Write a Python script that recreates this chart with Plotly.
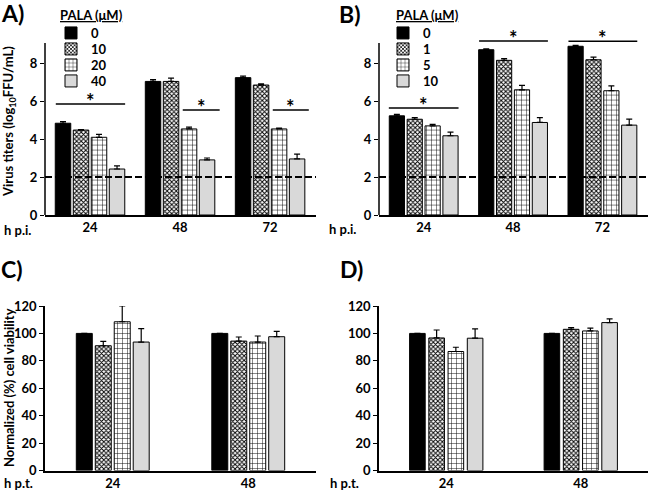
import plotly.graph_objects as go

# ---------------- data ----------------
hours_pi = ["24", "48", "72"]
hours_pt = ["24", "48"]
pala_A = ["0", "10", "20", "40"]
pala_B = ["0", "1", "5", "10"]

# Panel A: virus titers (log10 FFU/mL)
titer_A_0 = [4.83, 7.03, 7.23]
titer_A_10 = [4.47, 7.03, 6.84]
titer_A_20 = [4.09, 4.53, 4.53]
titer_A_40 = [2.42, 2.90, 2.95]
err_A_0 = [0.08, 0.10, 0.08]
err_A_10 = [0.03, 0.17, 0.06]
err_A_20 = [0.15, 0.10, 0.04]
err_A_40 = [0.17, 0.10, 0.25]

# Panel B
titer_B_0 = [5.22, 8.70, 8.88]
titer_B_1 = [5.04, 8.14, 8.17]
titer_B_5 = [4.69, 6.59, 6.54]
titer_B_10 = [4.17, 4.87, 4.73]
err_B_0 = [0.08, 0.04, 0.05]
err_B_1 = [0.08, 0.09, 0.14]
err_B_5 = [0.08, 0.23, 0.26]
err_B_10 = [0.19, 0.25, 0.32]

# Panel C: normalized cell viability (%)
via_C_0 = [100, 100]
via_C_10 = [91.0, 94.4]
via_C_20 = [108.5, 93.7]
via_C_40 = [93.7, 97.6]
err_C_0 = [0, 0]
err_C_10 = [3.2, 3.0]
err_C_20 = [11.5, 4.4]
err_C_40 = [9.8, 3.9]

# Panel D
via_D_0 = [100, 100]
via_D_1 = [96.7, 103.0]
via_D_5 = [86.8, 101.8]
via_D_10 = [96.5, 107.9]
err_D_0 = [0, 0]
err_D_1 = [5.8, 1.2]
err_D_5 = [3.1, 2.0]
err_D_10 = [6.8, 2.7]

detection_limit = 2

# significance brackets: (x start, x end in category units, y level)
sig_A = [(-0.38, 0.39, 5.84), (1.03, 1.44, 5.53), (2.03, 2.43, 5.53)]
sig_B = [(-0.39, 0.39, 5.63), (0.62, 1.39, 9.16), (1.62, 2.39, 9.14)]

# ---------------- styling ----------------
FONT = "Lato"
BLACK = "#000000"
GRAY = "#d9d9d9"
W, H = 650, 492

styles = [
    dict(color=BLACK),
    dict(color="white", pattern=dict(shape="x", size=3.2, solidity=0.5, fgcolor=BLACK, bgcolor="white", fillmode="replace")),
    dict(color="white", pattern=dict(shape="+", size=5, solidity=0.18, fgcolor=BLACK, bgcolor="white", fillmode="replace")),
    dict(color=GRAY),
]

fig = go.Figure()
legfont = dict(family=FONT, size=13, weight=700, color=BLACK)
legend_layouts = {}
legend_counter = [0]


def add_panel(xs, series, errs, names, xa, ya, slot, width, legend_pos=None):
    n = len(series)
    start = -(slot * (n - 1) + width) / 2
    for i, (vals, er) in enumerate(zip(series, errs)):
        st = styles[i]
        marker = dict(color=st["color"], line=dict(color=BLACK, width=1))
        if "pattern" in st:
            marker["pattern"] = st["pattern"]
        legname = "legend"
        if legend_pos is not None:
            legend_counter[0] += 1
            k = legend_counter[0]
            legname = "legend" if k == 1 else f"legend{k}"
            lx, ly0, dy = legend_pos
            legend_layouts[legname] = dict(
                x=lx / W, y=1 - (ly0 + i * dy) / H, xanchor="left", yanchor="middle",
                font=legfont, bgcolor="rgba(0,0,0,0)", borderwidth=0)
        fig.add_trace(go.Bar(
            x=xs, y=vals, name=names[i], xaxis=xa, yaxis=ya,
            width=width, offset=start + i * slot,
            marker=marker,
            error_y=dict(type="data", symmetric=False, array=er, arrayminus=[0] * len(er),
                         color=BLACK, thickness=1.2, width=3),
            showlegend=legend_pos is not None,
            legend=legname,
        ))


add_panel(hours_pi, [titer_A_0, titer_A_10, titer_A_20, titer_A_40],
          [err_A_0, err_A_10, err_A_20, err_A_40], pala_A, "x", "y", 0.2, 0.172, (51, 33, 16))
add_panel(hours_pi, [titer_B_0, titer_B_1, titer_B_5, titer_B_10],
          [err_B_0, err_B_1, err_B_5, err_B_10], pala_B, "x2", "y2", 0.2, 0.17, (383, 33, 16))
add_panel(hours_pt, [via_C_0, via_C_10, via_C_20, via_C_40],
          [err_C_0, err_C_10, err_C_20, err_C_40], pala_A, "x3", "y3", 0.14, 0.118)
add_panel(hours_pt, [via_D_0, via_D_1, via_D_5, via_D_10],
          [err_D_0, err_D_1, err_D_5, err_D_10], pala_B, "x4", "y4", 0.143, 0.116)

tickfont = dict(family=FONT, size=13, color=BLACK, weight=700)

dom_x_left = [45 / W, 316 / W]
dom_x_right = [379 / W, 648 / W]
dom_y_top = [1 - 215 / H, 1 - 32.6 / H]
dom_y_bot = [1 - 470.5 / H, 1 - 306 / H]


def xaxis(domain, anchor, rng):
    return dict(domain=domain, anchor=anchor, type="category", range=rng,
                showline=True, linecolor=BLACK, linewidth=1.5, ticks="",
                tickfont=tickfont, showgrid=False, zeroline=False, fixedrange=True,
                automargin=False)


def yaxis(domain, anchor, rng, tickvals, showline):
    return dict(domain=domain, anchor=anchor, range=rng, tickvals=tickvals,
                showline=showline, linecolor=BLACK, linewidth=1.5, ticks="outside",
                ticklen=4, tickwidth=1.2, tickcolor=BLACK, tickfont=tickfont,
                showgrid=False, zeroline=False, fixedrange=True, automargin=False)


fig.update_layout(
    width=W, height=H, margin=dict(l=0, r=0, t=0, b=0, pad=0, autoexpand=False),
    paper_bgcolor="white", plot_bgcolor="white",
    barmode="overlay",
    font=dict(family=FONT, color=BLACK),
    xaxis=xaxis(dom_x_left, "y", [-0.5, 2.51]),
    yaxis=yaxis(dom_y_top, "x", [0, 9.6], [0, 2, 4, 6, 8], False),
    xaxis2=xaxis(dom_x_right, "y2", [-0.5, 2.51]),
    yaxis2=yaxis(dom_y_top, "x2", [0, 9.6], [0, 2, 4, 6, 8], False),
    xaxis3=xaxis(dom_x_left, "y3", [-0.5, 1.5]),
    yaxis3=yaxis(dom_y_bot, "x3", [0, 120], [0, 20, 40, 60, 80, 100, 120], True),
    xaxis4=xaxis(dom_x_right, "y4", [-0.5, 1.5]),
    yaxis4=yaxis(dom_y_bot, "x4", [0, 120], [0, 20, 40, 60, 80, 100, 120], True),
    **legend_layouts,
)

shapes = []
annotations = []

# y-axis lines for A and B (stop at 9.05) and detection-limit dashed line
for xa, ya in [("x", "y"), ("x2", "y2")]:
    shapes.append(dict(type="line", xref=f"{xa} domain", yref=ya, x0=0, x1=0, y0=0, y1=9.05,
                       line=dict(color=BLACK, width=1.5)))
    shapes.append(dict(type="line", xref=f"{xa} domain", yref=ya, x0=0, x1=1,
                       y0=detection_limit, y1=detection_limit,
                       line=dict(color=BLACK, width=2, dash="7px,3px")))

for sig, xa, ya in [(sig_A, "x", "y"), (sig_B, "x2", "y2")]:
    for a, b, yv in sig:
        shapes.append(dict(type="line", xref=xa, yref=ya, x0=a, x1=b, y0=yv, y1=yv,
                           line=dict(color=BLACK, width=1.5)))
        annotations.append(dict(text="*", x=(a + b) / 2, y=yv, xref=xa, yref=ya,
                                showarrow=False, yanchor="bottom", yshift=-11,
                                font=dict(family=FONT, size=20, color=BLACK, weight=700)))


def pann(text, x, y, xanchor="left", size=13, angle=0):
    annotations.append(dict(text=text, x=x / W, y=1 - y / H, xref="paper", yref="paper",
                            xanchor=xanchor, yanchor="middle", showarrow=False, textangle=angle,
                            font=dict(family=FONT, size=size, color=BLACK, weight=700)))


pann("A)", -1, 13, size=23)
pann("B)", 337, 14, size=23)
pann("C)", -1, 269, size=23)
pann("D)", 338, 269, size=23)
pann("<u>PALA (μM)</u>", 91.5, 15, xanchor="center", size=13)
pann("<u>PALA (μM)</u>", 427, 15, xanchor="center", size=13)
pann("h p.i.", 2, 230)
pann("h p.i.", 327, 229)
pann("h p.t.", 2, 483)
pann("h p.t.", 328, 483)
pann("Virus titers (log<sub>10</sub>FFU/mL)", 9, 122, xanchor="center", size=13, angle=-90)
pann("Normalized (%) cell viability", 9, 388, xanchor="center", size=13, angle=-90)

fig.update_layout(shapes=shapes, annotations=annotations)
fig.write_html("out.html", config={"displayModeBar": False},
               post_script="document.body.style.margin='0px';")
